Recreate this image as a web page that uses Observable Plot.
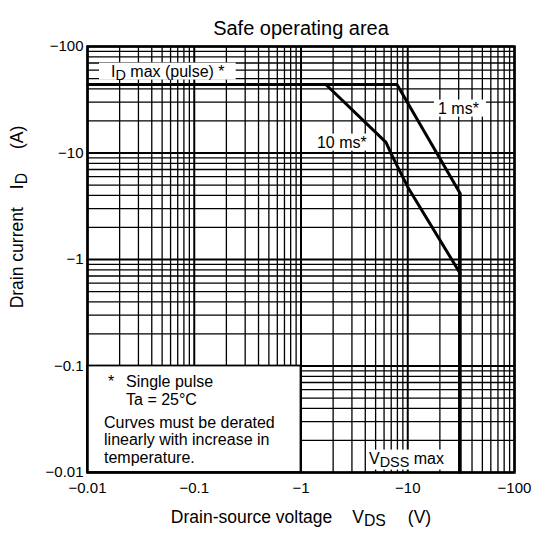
<!DOCTYPE html>
<html><head><meta charset="utf-8">
<script src="https://cdn.jsdelivr.net/npm/d3@7"></script>
<script src="https://cdn.jsdelivr.net/npm/@observablehq/plot@0.6"></script>
<style>body{margin:0;background:#fff}</style>
</head><body><div id="chart"></div>
<script>
// ---- data ----
const decades = [0.01, 0.1, 1, 10, 100];
const minorSteps = [2, 3, 4, 5, 6, 7, 8, 9];
const tickLabels = ["\u22120.01", "\u22120.1", "\u22121", "\u221210", "\u2212100"];

// 1 ms curve (includes ID max pulse line and VDSS max vertical)
const oneMsV = [0.01, 7.93, 31, 31];
const oneMsA = [44, 44, 4.17, 0.01];
// 10 ms curve
const tenMsV = [1.71, 6.26, 6.97, 8.11, 10.05, 31];
const tenMsA = [44, 12.6, 9.9, 7.3, 4.75, 0.74];

const legendBox = [{x1: 0.01, x2: 1, y1: 0.01, y2: 0.1}];

const annotations = [
  {text: "ID max (pulse) *", v: 0.0166, a: 58.3},
  {text: "10 ms*", v: 1.41, a: 12.55},
  {text: "1 ms*", v: 19.2, a: 26.2},
  {text: "VDSS max", v: 4.34, a: 0.01355}
];
const legendLines = [
  {text: "*", v: 0.01556, a: 0.0715},
  {text: "Single pulse", v: 0.02296, a: 0.0715},
  {text: "Ta = 25°C", v: 0.02296, a: 0.0485},
  {text: "Curves must be derated", v: 0.01428, a: 0.0295},
  {text: "linearly with increase in", v: 0.01428, a: 0.0204},
  {text: "temperature.", v: 0.01428, a: 0.01383}
];
const titleText = "Safe operating area";
const xLabel = "Drain-source voltage VDS (V)";
const yLabel = "Drain current ID (A)";

// ---- derived ----
const minorGrid = decades.slice(0, -1).flatMap(d => minorSteps.map(s => d * s));
const oneMs = oneMsV.map((v, i) => ({v, a: oneMsA[i]}));
const tenMs = tenMsV.map((v, i) => ({v, a: tenMsA[i]}));
const fmt = d => tickLabels[decades.indexOf(d)];

const RICH = {
  "ID max (pulse) *": [{t: "I"}, {t: "D", sub: true}, {t: " max (pulse) *"}],
  "VDSS max": [{t: "V"}, {t: "DSS", sub: true}, {t: " max"}],
  "Drain-source voltage VDS (V)": [{t: "Drain-source voltage"}, {t: "V", dx: 20}, {t: "DS", sub: true}, {t: "(V)", dx: 22}],
  "Drain current ID (A)": [{t: "Drain current"}, {t: "I", dx: 18}, {t: "D", sub: true}, {t: "(A)", dx: 24}]
};
const BOX = {
  "ID max (pulse) *": {l: 12, r: 10, t: 0, b: 0},
  "10 ms*": {l: 4, r: 4, t: 0, b: 0},
  "1 ms*": {l: 4, r: 7, t: 0, b: 0},
  "VDSS max": {l: 3, r: 3, t: 0, b: 3}
};

const font = "'Liberation Sans', Arial, Helvetica, sans-serif";

const chart = Plot.plot({
  width: 533, height: 545,
  marginLeft: 87, marginRight: 19, marginTop: 46, marginBottom: 73,
  style: {fontFamily: font, fontSize: "15px", color: "black", background: "white"},
  x: {type: "log", domain: [0.01, 100], ticks: decades, tickFormat: fmt, tickSize: 0, tickPadding: 10, label: null},
  y: {type: "log", domain: [0.01, 100], ticks: decades, tickFormat: fmt, tickSize: 0, tickPadding: 4, label: null},
  marks: [
    Plot.ruleX(minorGrid, {x: d => d, stroke: "black", strokeWidth: 1.3}),
    Plot.ruleY(minorGrid, {y: d => d, stroke: "black", strokeWidth: 1.3}),
    Plot.ruleX(decades, {x: d => d, stroke: "black", strokeWidth: 2}),
    Plot.ruleY(decades, {y: d => d, stroke: "black", strokeWidth: 2}),
    Plot.rect(legendBox, {x1: "x1", x2: "x2", y1: "y1", y2: "y2", fill: "white", stroke: "black", strokeWidth: 1.8}),
    Plot.text(annotations, {x: "v", y: "a", text: "text", textAnchor: "start", fontSize: 16, fill: "black"}),
    Plot.text(legendLines, {x: "v", y: "a", text: "text", textAnchor: "start", fontSize: 16, fill: "black"}),
    Plot.line(tenMs, {x: "v", y: "a", stroke: "black", strokeWidth: 3, strokeLinejoin: "miter"}),
    Plot.line(oneMs, {x: "v", y: "a", stroke: "black", strokeWidth: 3, strokeLinejoin: "miter"}),
    Plot.frame({stroke: "black", strokeWidth: 2.5}),
    Plot.text([titleText], {text: d => d, frameAnchor: "top", dy: -25.5, fontSize: 20, fill: "black"}),
    Plot.text([xLabel], {text: d => d, frameAnchor: "bottom", textAnchor: "middle", dy: 50, fontSize: 17.5, fill: "black"}),
    Plot.text([yLabel], {text: d => d, frameAnchor: "left", textAnchor: "middle", rotate: -90, dx: -70, dy: -42.5, fontSize: 17.5, fill: "black"})
  ]
});
document.getElementById("chart").appendChild(chart);

const NS = "http://www.w3.org/2000/svg";
const texts = Array.from(chart.querySelectorAll("text"));
// white label boxes
texts.forEach(t => {
  const p = BOX[t.textContent];
  if (!p) return;
  const bb = t.getBBox();
  const r = document.createElementNS(NS, "rect");
  r.setAttribute("x", bb.x - p.l);
  r.setAttribute("y", bb.y - p.t);
  r.setAttribute("width", bb.width + p.l + p.r);
  r.setAttribute("height", bb.height + p.t + p.b);
  r.setAttribute("fill", "white");
  r.setAttribute("stroke", "none");
  if (t.getAttribute("transform")) r.setAttribute("transform", t.getAttribute("transform"));
  t.parentNode.insertBefore(r, t);
});
// subscripts
texts.forEach(t => {
  const parts = RICH[t.textContent];
  if (!parts) return;
  t.textContent = "";
  let shift = 0;
  for (const p of parts) {
    const ts = document.createElementNS(NS, "tspan");
    ts.textContent = p.t;
    let dy = 0;
    if (p.sub) { ts.setAttribute("font-size", "0.9em"); if (!shift) { dy = 3.5; shift = 3.5; } }
    else if (shift) { dy = -shift; shift = 0; }
    if (dy) ts.setAttribute("dy", dy);
    if (p.dx) ts.setAttribute("dx", p.dx);
    t.appendChild(ts);
  }
});
</script>
</body></html>
